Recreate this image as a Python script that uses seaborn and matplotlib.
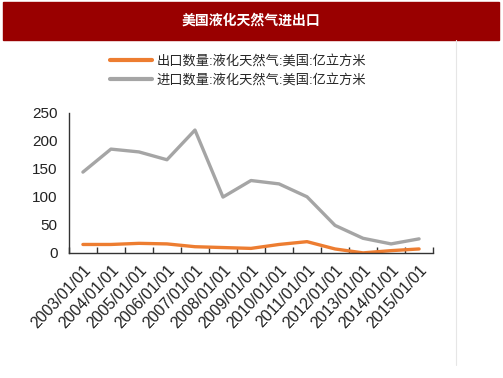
import pandas as pd
import matplotlib
matplotlib.use('Agg')
import matplotlib.pyplot as plt
import seaborn as sns
from matplotlib.patches import Rectangle
from matplotlib.lines import Line2D
from matplotlib.ticker import FixedLocator

years = ['2003/01/01', '2004/01/01', '2005/01/01', '2006/01/01', '2007/01/01',
         '2008/01/01', '2009/01/01', '2010/01/01', '2011/01/01', '2012/01/01',
         '2013/01/01', '2014/01/01', '2015/01/01']
export_vals = [15, 15, 17, 16, 11, 9.5, 8, 15, 20, 7, 0, 4, 7]
import_vals = [144, 185, 180, 166, 219, 99.5, 129, 123, 100, 49, 26, 16, 25]

export_name = '出口数量:液化天然气:美国:亿立方米'
import_name = '进口数量:液化天然气:美国:亿立方米'
title = '美国液化天然气进出口'

df = pd.DataFrame({'date': years * 2,
                   'value': export_vals + import_vals,
                   'series': [export_name] * len(years) + [import_name] * len(years)})

sns.set_style('white')
plt.rcParams['font.family'] = ['Liberation Sans', 'Noto Sans CJK SC', 'DejaVu Sans']

fig = plt.figure(figsize=(5.03, 3.78), dpi=100)
ax = fig.add_axes([0.137, 0.331, 0.724, 0.371])

palette = {export_name: '#ED7D31', import_name: '#A5A5A5'}
sns.lineplot(data=df, x='date', y='value', hue='series', palette=palette,
             linewidth=2.4, ax=ax, legend=False, sort=False)

ax.set_xlim(-0.5, 12.5)
ax.set_ylim(0, 250)
ax.set_yticks([0, 50, 100, 150, 200, 250])
ax.set_xlabel('')
ax.set_ylabel('')
ax.set_xticks(range(len(years)))
ax.set_xticklabels(years, rotation=47, ha='right', rotation_mode='anchor',
                   fontsize=11.5, color='#222222')
ax.xaxis.set_minor_locator(FixedLocator([i - 0.5 for i in range(len(years) + 1)]))
ax.tick_params(axis='x', which='major', length=0, pad=7)
ax.tick_params(axis='x', which='minor', direction='in', length=4, width=1, color='#333333', bottom=True)
ax.tick_params(axis='y', length=0, labelsize=11, labelcolor='#222222', pad=8)
for s in ['top', 'right']:
    ax.spines[s].set_visible(False)
for s in ['left', 'bottom']:
    ax.spines[s].set_color('#333333')
    ax.spines[s].set_linewidth(1)

# title banner
fig.patches.append(Rectangle((3 / 503, 1 - 40 / 378), 496 / 503, 38 / 378,
                             transform=fig.transFigure, color='#990000', zorder=0))
fig.text(251 / 503, 1 - 21 / 378, title, color='white', fontsize=10,
         fontweight='bold', ha='center', va='center')
fig.lines.append(Line2D([456 / 503, 456 / 503], [1 - 40 / 378, 1 - 365 / 378],
                        transform=fig.transFigure, color='#e6e6e6', linewidth=0.8))

handles = [Line2D([], [], color='#ED7D31', linewidth=3),
           Line2D([], [], color='#A5A5A5', linewidth=3)]
fig.legend(handles, [export_name, import_name], loc='center',
           bbox_to_anchor=(238 / 503, 1 - 71 / 378), frameon=False,
           fontsize=9.5, handlelength=3.2, labelspacing=0.45, handletextpad=0.3)

fig.savefig('out.png', dpi=100, facecolor='white')
